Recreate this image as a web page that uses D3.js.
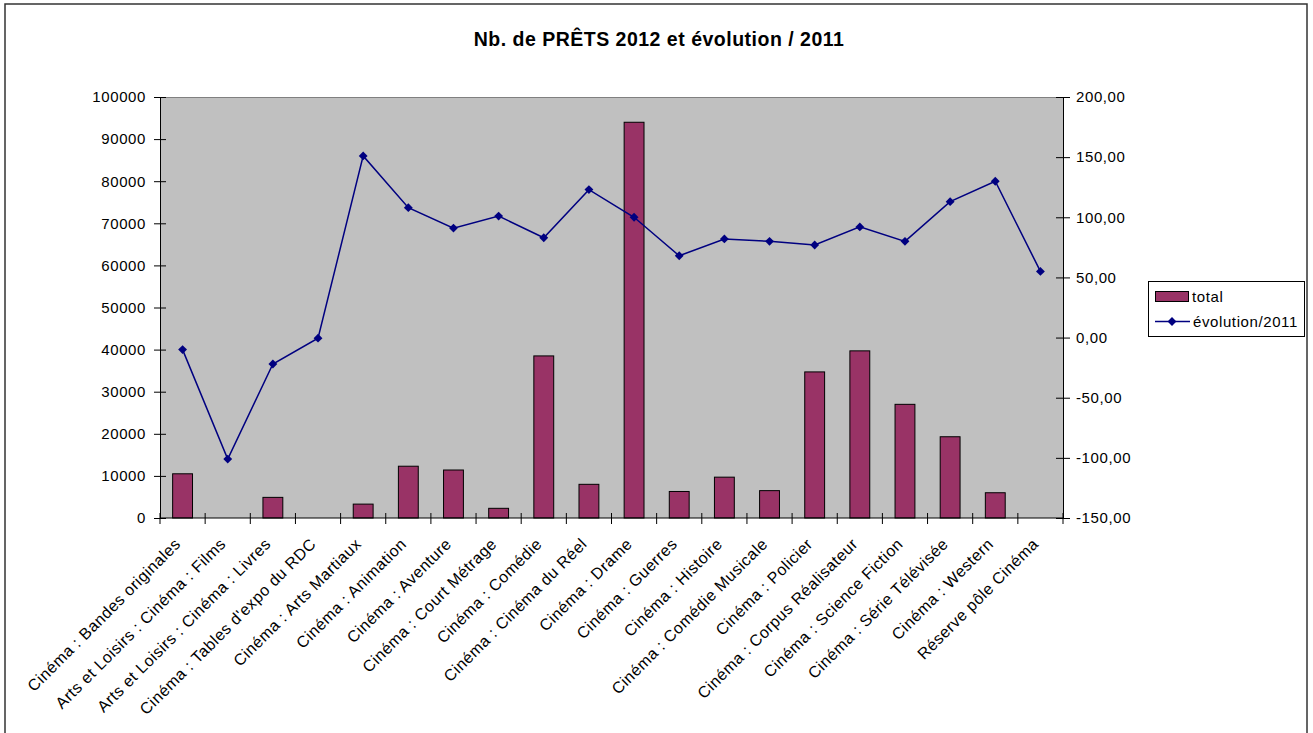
<!DOCTYPE html>
<html>
<head>
<meta charset="utf-8">
<script src="https://cdn.jsdelivr.net/npm/d3@7"></script>
<style>
  html, body { margin: 0; padding: 0; background: #fff; }
  svg { display: block; font-family: Arial, "Liberation Sans", sans-serif; }
</style>
</head>
<body>
<svg id="chart" width="1313" height="733"></svg>
<script>
const categories = [
  "Cinéma : Bandes originales",
  "Arts et Loisirs : Cinéma : Films",
  "Arts et Loisirs : Cinéma : Livres",
  "Cinéma : Tables d'expo du RDC",
  "Cinéma : Arts Martiaux",
  "Cinéma : Animation",
  "Cinéma : Aventure",
  "Cinéma : Court Métrage",
  "Cinéma : Comédie",
  "Cinéma : Cinéma du Réel",
  "Cinéma : Drame",
  "Cinéma : Guerres",
  "Cinéma : Histoire",
  "Cinéma : Comédie Musicale",
  "Cinéma : Policier",
  "Cinéma : Corpus Réalisateur",
  "Cinéma : Science Fiction",
  "Cinéma : Série Télévisée",
  "Cinéma : Western",
  "Réserve pôle Cinéma"
];
const totals = [10500, 0, 4900, 0, 3300, 12300, 11400, 2300, 38500, 8000,
                94000, 6300, 9700, 6500, 34700, 39700, 27000, 19300, 6000, 0];
const evolution = [-10, -101, -22, -0.5, 151, 108, 91, 101, 83, 123,
                   100, 68, 82, 80, 77, 92, 80, 113, 130, 55];
const leftTicks = [0, 10000, 20000, 30000, 40000, 50000, 60000, 70000, 80000, 90000, 100000];
const rightTicks = [-150, -100, -50, 0, 50, 100, 150, 200];
const titleText = "Nb. de PRÊTS 2012 et évolution / 2011";
const seriesNames = ["total", "évolution/2011"];

const svg = d3.select("#chart");
const P = {left: 160, right: 1063, top: 97, bottom: 518};

// outer border
svg.append("rect").attr("x", 5).attr("y", 4).attr("width", 1302).attr("height", 740)
  .attr("fill", "#fff").attr("stroke", "#333").attr("stroke-width", 1.5);

// title
svg.append("text").attr("x", 659).attr("y", 46).attr("text-anchor", "middle")
  .attr("font-size", "19.5px").attr("font-weight", "bold").attr("letter-spacing", "0.5px")
  .attr("fill", "#000").text(titleText);

const x = d3.scaleBand().domain(categories).range([P.left, P.right]).padding(0);
const yL = d3.scaleLinear().domain([0, 100000]).range([P.bottom, P.top]);
const yR = d3.scaleLinear().domain([-150, 200]).range([P.bottom, P.top]);

// plot area
svg.append("rect").attr("x", P.left).attr("y", P.top)
  .attr("width", P.right - P.left).attr("height", P.bottom - P.top)
  .attr("fill", "#C0C0C0");
svg.append("line").attr("x1", P.left).attr("x2", P.right).attr("y1", P.top + 0.5).attr("y2", P.top + 0.5)
  .attr("stroke", "#808080").attr("stroke-width", 1);

// bars
const bw = x.bandwidth() * 0.44;
svg.append("g").selectAll("rect").data(categories.map((c, i) => ({c, v: totals[i]})).filter(d => d.v > 0))
  .join("rect")
  .attr("x", d => x(d.c) + x.bandwidth() / 2 - bw / 2)
  .attr("y", d => yL(d.v))
  .attr("width", bw)
  .attr("height", d => yL(0) - yL(d.v))
  .attr("fill", "#993366").attr("stroke", "#000").attr("stroke-width", 1);

// axes
const textStyle = sel => sel.attr("font-size", "15px").attr("letter-spacing", "0.6px").attr("fill", "#000");

const gL = svg.append("g").attr("transform", `translate(${P.left},0)`)
  .call(d3.axisLeft(yL).tickValues(leftTicks).tickFormat(d3.format("d")).tickSizeOuter(0).tickSizeInner(6).tickPadding(8));
gL.select(".domain").attr("stroke", "#000");
gL.selectAll(".tick line").attr("x2", 6).attr("x1", -6).attr("stroke", "#000");
gL.selectAll("text").call(textStyle);
gL.attr("font-family", null).attr("font-size", null);

const fmtR = d => d3.format(".2f")(d).replace(".", ",").replace("\u2212", "-");
const gR = svg.append("g").attr("transform", `translate(${P.right},0)`)
  .call(d3.axisRight(yR).tickValues(rightTicks).tickFormat(fmtR).tickSizeOuter(0).tickSizeInner(7).tickPadding(6));
gR.select(".domain").attr("stroke", "#000");
gR.selectAll(".tick line").attr("x1", -7).attr("x2", 7).attr("stroke", "#000");
gR.selectAll("text").call(textStyle);
gR.attr("font-family", null).attr("font-size", null);

// x axis line and ticks between categories
const gX = svg.append("g");
gX.append("line").attr("x1", P.left).attr("x2", P.right).attr("y1", P.bottom).attr("y2", P.bottom)
  .attr("stroke", "#000").attr("stroke-width", 1);
const bounds = d3.range(categories.length + 1).map(i => P.left + i * x.step());
gX.selectAll("line.tk").data(bounds).join("line").attr("class", "tk")
  .attr("x1", d => d).attr("x2", d => d).attr("y1", P.bottom - 5).attr("y2", P.bottom + 6)
  .attr("stroke", "#000");

// category labels
svg.append("g").selectAll("text").data(categories).join("text")
  .attr("transform", d => `translate(${x(d) + x.bandwidth() / 2 - 1},545) rotate(-45)`)
  .attr("text-anchor", "end")
  .attr("font-size", "16px").attr("letter-spacing", "0.5px").attr("fill", "#000")
  .text(d => d);

// line series
const pts = categories.map((c, i) => [x(c) + x.bandwidth() / 2, yR(evolution[i])]);
svg.append("path").attr("d", d3.line()(pts)).attr("fill", "none")
  .attr("stroke", "#000080").attr("stroke-width", 1.5);
const diamond = d3.symbol().type(d3.symbolDiamond2).size(50);
svg.append("g").selectAll("path").data(pts).join("path")
  .attr("transform", d => `translate(${d[0]},${d[1]})`)
  .attr("d", diamond).attr("fill", "#000080");

// legend
const lg = svg.append("g");
lg.append("rect").attr("x", 1148.5).attr("y", 281.5).attr("width", 156).attr("height", 55)
  .attr("fill", "#fff").attr("stroke", "#000").attr("stroke-width", 1);
lg.append("rect").attr("x", 1155.5).attr("y", 291.5).attr("width", 33).attr("height", 10)
  .attr("fill", "#993366").attr("stroke", "#000").attr("stroke-width", 1);
lg.append("text").attr("x", 1192).attr("y", 301.5).call(textStyle).text(seriesNames[0]);
lg.append("line").attr("x1", 1155).attr("x2", 1190).attr("y1", 321.5).attr("y2", 321.5)
  .attr("stroke", "#000080").attr("stroke-width", 1.5);
lg.append("path").attr("transform", "translate(1172,321.5)").attr("d", diamond).attr("fill", "#000080");
lg.append("text").attr("x", 1193).attr("y", 327).call(textStyle).text(seriesNames[1]);
</script>
</body>
</html>
